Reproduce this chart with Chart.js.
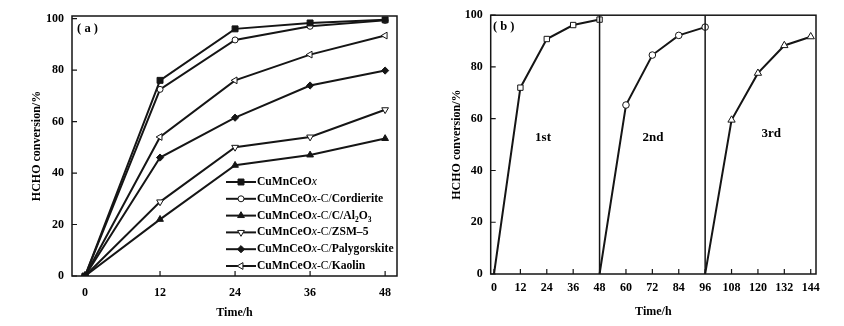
<!DOCTYPE html>
<html>
<head>
<meta charset="utf-8">
<script src="https://cdn.jsdelivr.net/npm/chart.js@4.4.1/dist/chart.umd.min.js"></script>
<style>
  body { margin: 0; background: #fff; }
  .panel { position: absolute; top: 0; }
</style>
</head>
<body>
<div class="panel" style="left:0"><canvas id="chartA" width="420" height="326"></canvas></div>
<div class="panel" style="left:420px"><canvas id="chartB" width="424" height="326"></canvas></div>
<script>
// panel (a): HCHO conversion of the different catalysts
const timesA = [0, 12, 24, 36, 48];
const cuMnCeOx = [0, 76, 96, 98.3, 99.5];
const cordierite = [0, 72.5, 91.7, 97, 99.3];
const al2o3 = [0, 22, 43, 47, 53.4];
const zsm5 = [0, 28.8, 50, 54, 64.6];
const palygorskite = [0, 46, 61.5, 74, 79.8];
const kaolin = [0, 54, 76, 86, 93.4];
// *..* italic, ^..^ regular weight, _n subscript
const seriesNames = [
    'CuMnCeO*x*',
    'CuMnCeO*x*^-C/^Cordierite',
    'CuMnCeO*x*^-C/^C/Al_2O_3',
    'CuMnCeO*x*^-C/^ZSM\u20135',
    'CuMnCeO*x*^-C/^Palygorskite',
    'CuMnCeO*x*^-C/^Kaolin'
];

// panel (b): three reuse runs
const run1Times = [0, 12, 24, 36, 48];
const run1 = [0, 72, 90.8, 96.2, 98.3];
const run2Times = [48, 60, 72, 84, 96];
const run2 = [0, 65.3, 84.6, 92.2, 95.4];
const run3Times = [96, 108, 120, 132, 144];
const run3 = [0, 59.5, 77.6, 88.3, 91.7];
const runBreaks = [48, 96];
const runLabels = ['1st', '2nd', '3rd'];

const yTicks = [0, 20, 40, 60, 80, 100];
const xTicksB = [0, 12, 24, 36, 48, 60, 72, 84, 96, 108, 120, 132, 144];

const ink = '#151515';
const serif = "'Liberation Serif', 'Times New Roman', serif";
const tickFont = { family: serif, size: 12, weight: 'bold' };

function toPoints(xs, ys) {
    return xs.map((x, i) => ({ x: x, y: ys[i] }));
}

function series(label, ys, style, radius, rotation, open) {
    return {
        label: label,
        data: toPoints(timesA, ys),
        borderColor: ink,
        borderWidth: 2,
        pointStyle: style,
        pointRadius: radius,
        pointRotation: rotation,
        pointBorderWidth: 1,
        pointBorderColor: ink,
        pointBackgroundColor: open ? '#fff' : ink,
        tension: 0
    };
}

// inner frame round the plot area, with inward tick marks
const framePlugin = {
    id: 'frame',
    afterDatasetsDraw(chart) {
        const a = chart.chartArea;
        const ctx = chart.ctx;
        const xs = chart.scales.x;
        const ys = chart.scales.y;
        ctx.save();
        ctx.strokeStyle = ink;
        ctx.lineWidth = 1.2;
        ctx.beginPath();
        xs.ticks.forEach(t => {
            const px = xs.getPixelForValue(t.value);
            ctx.moveTo(px, a.bottom);
            ctx.lineTo(px, a.bottom - 5);
        });
        ys.ticks.forEach(t => {
            const py = ys.getPixelForValue(t.value);
            ctx.moveTo(a.left, py);
            ctx.lineTo(a.left + 5, py);
        });
        ctx.stroke();
        ctx.lineWidth = 1.5;
        ctx.strokeRect(a.left, a.top, a.right - a.left, a.bottom - a.top);
        ctx.restore();
    }
};

function parseRich(str) {
    const parts = [];
    let mode = { italic: false, regular: false };
    let buf = '';
    const push = () => { if (buf) parts.push({ t: buf, italic: mode.italic, regular: mode.regular, sub: false }); buf = ''; };
    for (let i = 0; i < str.length; i++) {
        const c = str[i];
        if (c === '*') { push(); mode.italic = !mode.italic; }
        else if (c === '^') { push(); mode.regular = !mode.regular; }
        else if (c === '_') { push(); parts.push({ t: str[i + 1], italic: false, regular: false, sub: true }); i++; }
        else buf += c;
    }
    push();
    return parts;
}

const legendPlugin = {
    id: 'richLegend',
    afterDatasetsDraw(chart) {
        const ctx = chart.ctx;
        const a = chart.chartArea;
        const x0 = a.left + 154;
        const y0 = a.top + 166;
        const rowH = 16.8;
        ctx.save();
        chart.data.datasets.forEach((ds, i) => {
            const y = y0 + i * rowH;
            ctx.strokeStyle = ink;
            ctx.lineWidth = 2;
            ctx.beginPath();
            ctx.moveTo(x0, y);
            ctx.lineTo(x0 + 30, y);
            ctx.stroke();
            ctx.fillStyle = ds.pointBackgroundColor;
            ctx.strokeStyle = ink;
            ctx.lineWidth = 1;
            Chart.helpers.drawPoint(ctx, {
                pointStyle: ds.pointStyle,
                radius: ds.pointRadius,
                rotation: ds.pointRotation,
                borderWidth: 1
            }, x0 + 15, y);
            let tx = x0 + 31;
            ctx.textBaseline = 'middle';
            ctx.fillStyle = '#000';
            parseRich(ds.label).forEach(p => {
                const size = p.sub ? 7.5 : 11.6;
                const weight = p.regular || p.italic ? 'normal' : 'bold';
                ctx.font = (p.italic ? 'italic ' : '') + weight + ' ' + size + 'px ' + serif;
                ctx.fillText(p.t, tx, p.sub ? y + 4 : y);
                tx += ctx.measureText(p.t).width;
            });
        });
        ctx.restore();
    }
};

function panelLabel(text, dx, dy) {
    return {
        id: 'panelLabel',
        afterDraw(chart) {
            const ctx = chart.ctx;
            const a = chart.chartArea;
            ctx.save();
            ctx.font = 'bold 12.5px ' + serif;
            ctx.fillStyle = '#000';
            ctx.textAlign = 'center';
            ctx.textBaseline = 'middle';
            ctx.fillText(text, a.left + dx, a.top + dy);
            ctx.restore();
        }
    };
}

const runLabelPlugin = {
    id: 'runLabels',
    afterDraw(chart) {
        const ctx = chart.ctx;
        const xs = chart.scales.x;
        const ys = chart.scales.y;
        const spots = [[22.3, 52.7], [72.3, 52.7], [126, 54.2]];
        ctx.save();
        ctx.font = 'bold 13px ' + serif;
        ctx.fillStyle = '#000';
        ctx.textAlign = 'center';
        ctx.textBaseline = 'middle';
        runLabels.forEach((t, i) => {
            ctx.fillText(t, xs.getPixelForValue(spots[i][0]), ys.getPixelForValue(spots[i][1]));
        });
        ctx.restore();
    }
};

function axes(xMin, xMax, xTicks, yMax, yWidth, xHeight, yTitlePad, xTitlePad, xTickPad) {
    const grid = { display: false, drawTicks: false };
    return {
        x: {
            type: 'linear',
            min: xMin,
            max: xMax,
            afterBuildTicks: s => { s.ticks = xTicks.map(v => ({ value: v })); },
            afterFit: s => { s.height = xHeight; },
            grid: grid,
            border: { display: false },
            ticks: { font: tickFont, color: '#000', padding: xTickPad, maxRotation: 0, autoSkip: false },
            title: { display: true, text: 'Time/h', font: tickFont, color: '#000', padding: { top: 0, bottom: xTitlePad } }
        },
        y: {
            min: 0,
            max: yMax,
            afterBuildTicks: s => { s.ticks = yTicks.map(v => ({ value: v })); },
            afterFit: s => { s.width = yWidth; },
            grid: grid,
            border: { display: false },
            ticks: { font: tickFont, color: '#000', padding: 8 },
            title: { display: true, text: 'HCHO conversion/%', font: tickFont, color: '#000', padding: { top: yTitlePad, bottom: 0 } }
        }
    };
}

const baseOptions = {
    responsive: false,
    animation: false,
    plugins: { legend: { display: false }, tooltip: { enabled: false } }
};

new Chart(document.getElementById('chartA').getContext('2d'), {
    type: 'line',
    data: {
        datasets: [
            series(seriesNames[0], cuMnCeOx, 'rect', 4.2, 0, false),
            series(seriesNames[1], cordierite, 'circle', 3, 0, true),
            series(seriesNames[2], al2o3, 'triangle', 3.9, 0, false),
            series(seriesNames[3], zsm5, 'triangle', 3.9, 180, true),
            series(seriesNames[4], palygorskite, 'rectRot', 3.6, 0, false),
            series(seriesNames[5], kaolin, 'triangle', 3.9, 270, true)
        ]
    },
    options: Object.assign({}, baseOptions, {
        layout: { padding: { left: 0, right: 23, top: 16, bottom: 0 } },
        scales: axes(-2.08, 49.9, timesA, 101, 72, 50, 30, 5.5, 10)
    }),
    plugins: [framePlugin, legendPlugin, panelLabel('( a )', 15.5, 13)]
});

function runSet(label, xs, ys, style, radius) {
    return {
        label: label,
        data: toPoints(xs, ys),
        borderColor: ink,
        borderWidth: 2,
        pointStyle: style,
        pointRadius: ys.map(v => (v === 0 ? 0 : radius)),
        pointBorderWidth: 1,
        pointBorderColor: ink,
        pointBackgroundColor: '#fff',
        tension: 0
    };
}

function breakLine(x) {
    return {
        label: 'break',
        data: [{ x: x, y: 0 }, { x: x, y: 100 }],
        borderColor: ink,
        borderWidth: 1.5,
        pointRadius: 0,
        tension: 0
    };
}

new Chart(document.getElementById('chartB').getContext('2d'), {
    type: 'line',
    data: {
        datasets: runBreaks.map(breakLine).concat([
            runSet(runLabels[0], run1Times, run1, 'rect', 3.8),
            runSet(runLabels[1], run2Times, run2, 'circle', 3.3),
            runSet(runLabels[2], run3Times, run3, 'triangle', 4.2)
        ])
    },
    options: Object.assign({}, baseOptions, {
        layout: { padding: { left: 0, right: 28, top: 14, bottom: 0 } },
        scales: axes(-1.5, 146.4, xTicksB, 100, 70.7, 52, 29.5, 7, 7)
    }),
    plugins: [framePlugin, runLabelPlugin, panelLabel('( b )', 13, 12)]
});
</script>
</body>
</html>
